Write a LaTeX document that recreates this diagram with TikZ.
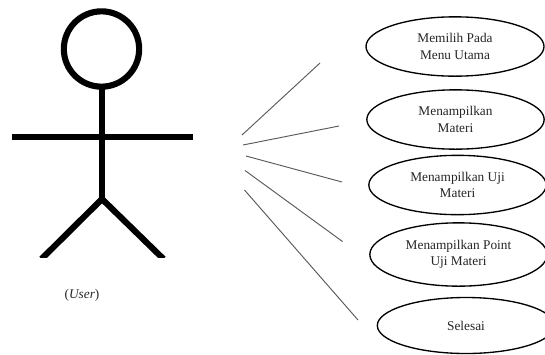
\documentclass[tikz,border=0pt]{standalone}
\usepackage{fontspec}
\setmainfont{Liberation Serif}
\usetikzlibrary{shapes.geometric}
\tikzset{
  x=0.75pt,y=-0.75pt,
  usecase/.style={ellipse,draw=black,line width=1pt,inner sep=0pt,outer sep=0pt,align=center,font=\fontsize{10}{12.4}\selectfont,text=black!85},
  limb/.style={line width=4.6pt,draw=black},
  link/.style={line width=0.7pt,draw=black!65},
}
\begin{document}
\begin{tikzpicture}
\clip (0,0) rectangle (545,354);
\fill[white] (0,0) rectangle (545,354);
% actor
\node[circle,draw=black,line width=4.6pt,minimum size=56.5pt,inner sep=0pt,outer sep=0pt] (head) at (101.5,49) {};
\coordinate (neck) at (102,86);
\coordinate (hip) at (102,199);
\coordinate (armL) at (12,137);
\coordinate (armR) at (193,137);
\coordinate (footL) at (41.5,259);
\coordinate (footR) at (163.5,259);
\draw[limb] (neck) -- (hip);
\draw[limb] (armL) -- (armR);
\begin{scope}
\clip (0,0) rectangle (300,257);
\draw[limb,line join=miter] (footL) -- (hip) -- (footR);
\end{scope}
\node[font=\fontsize{10}{12}\selectfont,text=black!85] (actor) at (82,295) {(\textit{User})};
% use cases
\node[usecase,minimum width=133.5pt,minimum height=44.5pt] (u1) at (455,46.5) {Memilih Pada\\Menu Utama};
\node[usecase,minimum width=133pt,minimum height=44.5pt] (u2) at (455.5,119.5) {Menampilkan\\Materi};
\node[usecase,minimum width=133pt,minimum height=44.5pt] (u3) at (457.5,185) {Menampilkan Uji\\Materi};
\node[usecase,minimum width=133pt,minimum height=47.5pt] (u4) at (458.5,254.5) {Menampilkan Point\\Uji Materi};
\node[usecase,minimum width=133pt,minimum height=42pt] (u5) at (466,325.5) {Selesai};
% connectors
\coordinate (a1) at (242,135); \coordinate (b1) at (320,63);
\coordinate (a2) at (243,145); \coordinate (b2) at (339,126);
\coordinate (a3) at (246,156); \coordinate (b3) at (342,182);
\coordinate (a4) at (245,170.5); \coordinate (b4) at (342.5,241.5);
\coordinate (a5) at (244.5,190); \coordinate (b5) at (358,320);
\draw[link] (a1) -- (b1);
\draw[link] (a2) -- (b2);
\draw[link] (a3) -- (b3);
\draw[link] (a4) -- (b4);
\draw[link] (a5) -- (b5);
\end{tikzpicture}
\end{document}
